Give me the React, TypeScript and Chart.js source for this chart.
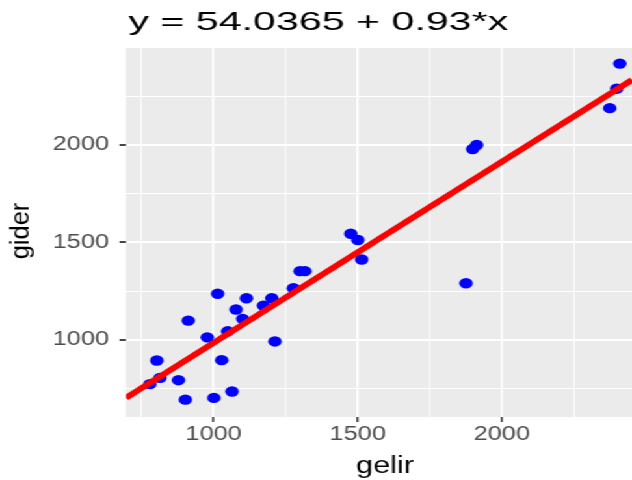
import React, { useEffect, useRef } from 'react';
import { Chart, registerables } from 'chart.js';

Chart.register(...registerables);

// ---- data ----
const gelir = [779, 803, 814, 878, 902, 912, 978, 1001, 1014, 1028, 1049, 1064, 1078, 1101, 1114, 1173, 1202, 1213, 1277, 1300, 1317, 1476, 1501, 1514, 1876, 1899, 1913, 2375, 2399, 2410];
const gider = [772, 893, 804, 792, 692, 1098, 1012, 701, 1236, 895, 1043, 734, 1155, 1107, 1213, 1175, 1213, 991, 1264, 1352, 1352, 1544, 1512, 1412, 1290, 1979, 2000, 2189, 2289, 2418];

const intercept = 54.0365;
const slope = 0.93;

const xRange = [696, 2452];
const yRange = [603, 2498];
const xGridValues = [750, 1000, 1250, 1500, 1750, 2000, 2250];
const yGridValues = [750, 1000, 1250, 1500, 1750, 2000, 2250];
const xTickLabels = ['1000', '1500', '2000'];
const yTickLabels = ['1000', '1500', '2000'];

const titleText = 'y = 54.0365 + 0.93*x';
const xTitle = 'gelir';
const yTitle = 'gider';

// ---- layout ----
const STRETCH = 632 / 486;
const W = 486;
const H = 480;
const FONT = '"Liberation Sans", Arial, Helvetica, sans-serif';

export default function App() {
  const ref = useRef<HTMLCanvasElement>(null);

  useEffect(() => {
    const canvas = ref.current;
    if (!canvas) return;

    const points = gelir.map((x, i) => ({ x, y: gider[i] }));
    const lineData = xRange.map((x) => ({ x, y: intercept + slope * x }));

    const bgPlugin = {
      id: 'panelBg',
      beforeDraw(chart: any) {
        const { ctx, chartArea: a } = chart;
        ctx.save();
        ctx.fillStyle = '#EBEBEB';
        ctx.fillRect(a.left, a.top, a.right - a.left, a.bottom - a.top);
        ctx.restore();
      },
    };

    const textPlugin = {
      id: 'texts',
      afterDraw(chart: any) {
        const ctx = chart.ctx as CanvasRenderingContext2D;
        // main title
        ctx.save();
        ctx.fillStyle = '#000000';
        ctx.font = `26px ${FONT}`;
        ctx.textAlign = 'left';
        ctx.textBaseline = 'alphabetic';
        const w = ctx.measureText(titleText).width;
        const sx = 380 / STRETCH / w;
        ctx.translate(128.3 / STRETCH, 29.8);
        ctx.scale(sx, 1);
        ctx.fillText(titleText, 0, 0);
        ctx.restore();

        // x axis title
        ctx.save();
        ctx.fillStyle = '#000000';
        ctx.font = `23.5px ${FONT}`;
        ctx.textAlign = 'center';
        ctx.textBaseline = 'alphabetic';
        ctx.fillText(xTitle, 385 / STRETCH, 473.3);
        ctx.restore();

        // y axis title (rotated, un-stretched)
        ctx.save();
        ctx.fillStyle = '#000000';
        ctx.font = `25.5px ${FONT}`;
        ctx.textAlign = 'center';
        ctx.textBaseline = 'middle';
        ctx.translate(21 / STRETCH, 231);
        ctx.scale(1 / STRETCH, 1);
        ctx.rotate(-Math.PI / 2);
        ctx.fillText(yTitle, 0, 0);
        ctx.restore();
      },
    };

    const isMajor = (c: any) => c.tick && Math.round(c.tick.value) % 500 === 0;

    const chart = new Chart(canvas, {
      type: 'scatter',
      data: {
        datasets: [
          {
            type: 'line',
            data: lineData,
            borderColor: '#FF0000',
            borderWidth: 5.5,
            pointRadius: 0,
            pointHoverRadius: 0,
            fill: false,
            tension: 0,
            clip: 0,
            order: 0,
          } as any,
          {
            type: 'scatter',
            data: points,
            backgroundColor: '#0000FF',
            borderWidth: 0,
            pointRadius: 5.2,
            pointHoverRadius: 5.2,
            order: 1,
          } as any,
        ],
      },
      options: {
        responsive: false,
        animation: false,
        devicePixelRatio: 1,
        events: [],
        layout: { autoPadding: false, padding: { top: 48, left: 0, right: 0, bottom: 0 } },
        plugins: {
          legend: { display: false },
          title: { display: false },
          tooltip: { enabled: false },
        },
        scales: {
          x: {
            type: 'linear',
            min: xRange[0],
            max: xRange[1],
            afterBuildTicks(s: any) {
              s.ticks = xGridValues.map((v) => ({ value: v }));
            },
            afterFit(s: any) {
              s.height = 63;
            },
            border: { display: false },
            grid: {
              color: '#FFFFFF',
              lineWidth: (c: any) => (isMajor(c) ? 1.7 : 0.85),
              tickColor: (c: any) => (isMajor(c) ? '#333333' : 'rgba(0,0,0,0)'),
              tickLength: 5,
              tickWidth: 1.5,
            },
            ticks: {
              autoSkip: false,
              maxRotation: 0,
              minRotation: 0,
              padding: 1,
              color: '#4D4D4D',
              font: { family: FONT, size: 19.5 },
              callback: (v: any) => (xTickLabels.includes(String(v)) ? String(v) : ''),
            },
          },
          y: {
            type: 'linear',
            min: yRange[0],
            max: yRange[1],
            afterBuildTicks(s: any) {
              s.ticks = yGridValues.map((v) => ({ value: v }));
            },
            afterFit(s: any) {
              s.width = 126 / STRETCH;
            },
            border: { display: false },
            grid: {
              color: '#FFFFFF',
              lineWidth: (c: any) => (isMajor(c) ? 2 : 1),
              tickColor: (c: any) => (isMajor(c) ? '#333333' : 'rgba(0,0,0,0)'),
              tickLength: 5,
              tickWidth: 1.8,
            },
            ticks: {
              autoSkip: false,
              padding: 8,
              color: '#4D4D4D',
              font: { family: FONT, size: 19.5 },
              callback: (v: any) => (yTickLabels.includes(String(v)) ? String(v) : ''),
            },
          },
        },
      },
      plugins: [bgPlugin, textPlugin],
    } as any);

    return () => chart.destroy();
  }, []);

  return (
    <div
      style={{
        position: 'fixed',
        left: 0,
        top: 0,
        width: W,
        height: H,
        transform: `scaleX(${STRETCH})`,
        transformOrigin: '0 0',
        background: '#FFFFFF',
      }}
    >
      <canvas ref={ref} width={W} height={H} style={{ width: W, height: H, display: 'block' }} />
    </div>
  );
}
